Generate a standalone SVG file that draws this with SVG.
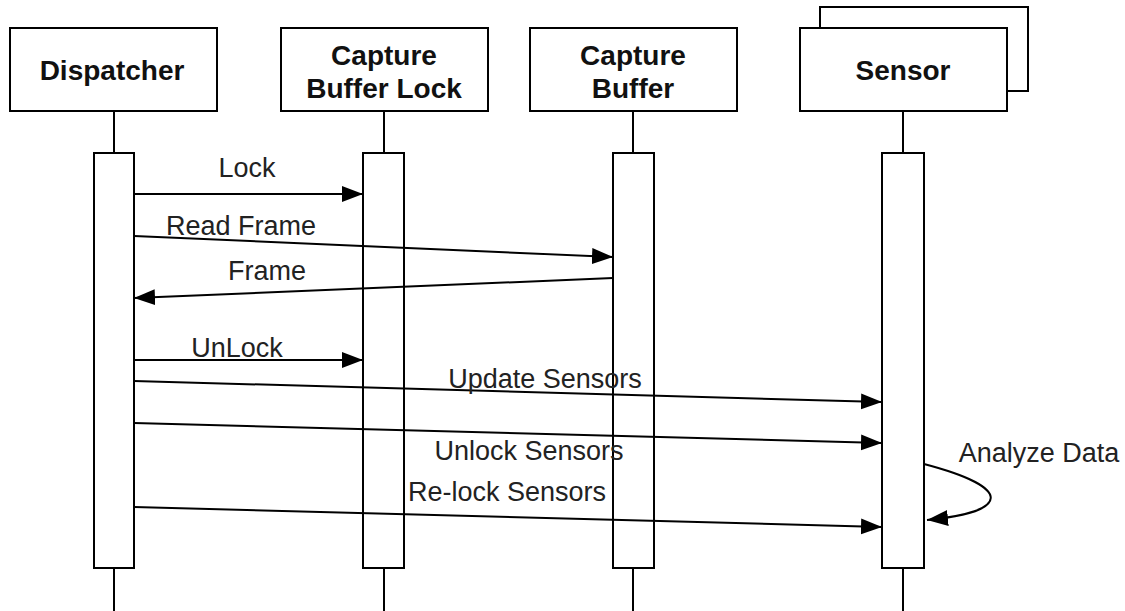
<svg xmlns="http://www.w3.org/2000/svg" width="1125" height="611" viewBox="0 0 1125 611">
<style>
.box{fill:#fff;stroke:#000;stroke-width:2}
.act{fill:#fff;stroke:#000;stroke-width:2}
.life{stroke:#000;stroke-width:2;fill:none}
.hdr{font-family:"Liberation Sans",Arial,sans-serif;font-weight:bold;font-size:28px;fill:#111;text-anchor:middle}
.lbl{font-family:"Liberation Sans",Arial,sans-serif;font-size:27px;fill:#222;text-anchor:middle}
.msg{stroke:#000;stroke-width:2;fill:none;marker-end:url(#ah)}
</style>
<defs>
<marker id="ah" markerUnits="userSpaceOnUse" markerWidth="24" markerHeight="18" refX="21" refY="8" orient="auto">
<path d="M0,0 L21,8 L0,16 z" fill="#000"/>
</marker>
</defs>
<rect width="1125" height="611" fill="#fff"/>
<g id="dispatcher">
<line class="life" x1="114" y1="111" x2="114" y2="611"/>
<rect class="box" x="10" y="28" width="207" height="83"/>
<text class="hdr" x="112" y="80">Dispatcher</text>
<rect class="act" x="94" y="153" width="40" height="415"/>
</g>
<g id="capture-buffer-lock">
<line class="life" x1="384" y1="111" x2="384" y2="611"/>
<rect class="box" x="281" y="28" width="207" height="83"/>
<text class="hdr" x="384" y="65">Capture</text>
<text class="hdr" x="384" y="98">Buffer Lock</text>
<rect class="act" x="363" y="153" width="41" height="415"/>
</g>
<g id="capture-buffer">
<line class="life" x1="633" y1="111" x2="633" y2="611"/>
<rect class="box" x="530" y="28" width="207" height="83"/>
<text class="hdr" x="633" y="65">Capture</text>
<text class="hdr" x="633" y="98">Buffer</text>
<rect class="act" x="613" y="153" width="41" height="415"/>
</g>
<g id="sensor">
<line class="life" x1="903" y1="111" x2="903" y2="611"/>
<rect class="box" x="820" y="7" width="208" height="84"/>
<rect class="box" x="800" y="28" width="207" height="83"/>
<text class="hdr" x="903" y="80">Sensor</text>
<rect class="act" x="882" y="153" width="42" height="415"/>
</g>
<g id="connectors">
<line class="msg" x1="134" y1="194" x2="363" y2="194"/>
<text class="lbl" x="247" y="177">Lock</text>
<line class="msg" x1="134" y1="236" x2="613" y2="257"/>
<text class="lbl" x="241" y="235">Read Frame</text>
<line class="msg" x1="613" y1="278" x2="134" y2="298"/>
<text class="lbl" x="267" y="280">Frame</text>
<line class="msg" x1="134" y1="360" x2="363" y2="360"/>
<text class="lbl" x="237" y="357">UnLock</text>
<line class="msg" x1="134" y1="381" x2="882" y2="402"/>
<text class="lbl" x="545" y="388">Update Sensors</text>
<line class="msg" x1="134" y1="423" x2="882" y2="443"/>
<text class="lbl" x="529" y="460">Unlock Sensors</text>
<line class="msg" x1="134" y1="507" x2="882" y2="527"/>
<text class="lbl" x="507" y="501">Re-lock Sensors</text>
<path class="msg" d="M924,464 C1015,488 1010,512 927,520"/>
<text class="lbl" x="1039" y="462">Analyze Data</text>
</g>
</svg>
